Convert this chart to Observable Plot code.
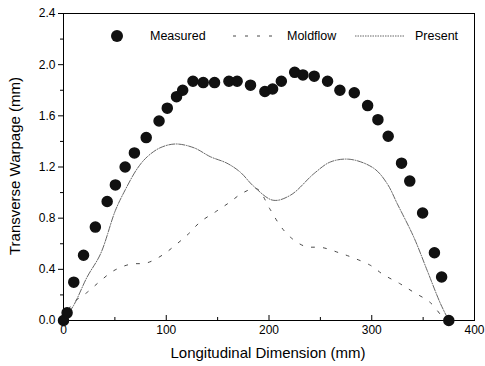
<!DOCTYPE html>
<html><head><meta charset="utf-8">
<script src="https://cdn.jsdelivr.net/npm/d3@7"></script>
<script src="https://cdn.jsdelivr.net/npm/@observablehq/plot@0.6"></script>
<style>body{margin:0;background:#fff;font-family:"Liberation Sans",Arial,sans-serif}</style>
</head><body><div id="chart"></div>
<script>
const measuredX = [0,3.5,10,19.5,31,42.5,50.5,60,69,80.5,93,101,110,116,126,136,147,161,169,182,196,203.5,212,225,233,244,257,269,283,296,306,316,329,337,349.5,361,368,375];
const measuredY = [0,0.06,0.30,0.51,0.73,0.93,1.06,1.20,1.31,1.43,1.56,1.66,1.75,1.80,1.87,1.86,1.86,1.87,1.87,1.84,1.79,1.81,1.87,1.94,1.92,1.91,1.87,1.80,1.78,1.68,1.57,1.44,1.23,1.09,0.84,0.53,0.34,0];
const moldX = [0,8.5,23,36,49,65,81,96,109,122,133,148,161,175,188,201,211,221,235,252,268,282,299,311,327,341,357,370];
const moldY = [0,0.13,0.22,0.31,0.39,0.44,0.45,0.51,0.59,0.68,0.77,0.85,0.92,1.0,1.03,0.87,0.74,0.65,0.58,0.57,0.53,0.49,0.43,0.36,0.29,0.22,0.14,0.01];
const presX = [0,10,23,36,50.5,60,72,81.5,94,109,127,143,159,172,185,204,221,244,260,279,302,315,325,341,354,367,375];
const presY = [0,0.12,0.34,0.52,0.86,1.02,1.19,1.28,1.35,1.38,1.35,1.28,1.23,1.16,1.05,0.94,0.98,1.15,1.24,1.26,1.19,1.07,0.91,0.65,0.39,0.13,0];
const xTicks = [0,100,200,300,400];
const xMinor = [50,150,250,350];
const yTicks = [0,0.4,0.8,1.2,1.6,2.0,2.4];
const yMinor = [0.2,0.6,1.0,1.4,1.8,2.2];
const legendLabels = ["Measured","Moldflow","Present"];

const measured = measuredX.map((x,i)=>({x,y:measuredY[i]}));
const mold = moldX.map((x,i)=>({x,y:moldY[i]}));
const pres = presX.map((x,i)=>({x,y:presY[i]}));

const chart = Plot.plot({
  width:485, height:366,
  marginLeft:63, marginRight:11, marginTop:13, marginBottom:46,
  style:{fontFamily:"Liberation Sans, Arial, sans-serif", fontSize:"11px", color:"#000", background:"#fff"},
  x:{domain:[0,400]},
  y:{domain:[0,2.4]},
  marks:[
    Plot.frame({stroke:"#000", strokeWidth:1}),
    Plot.axisX({ticks:xTicks, tickSize:-5, tickFormat:d=>d, label:null, fontSize:12, tickPadding:10}),
    Plot.axisX({ticks:xMinor, tickSize:-3, tickFormat:()=>"", label:null}),
    Plot.axisY({ticks:yTicks, tickSize:5, tickFormat:d3.format(".1f"), label:null, fontSize:12, tickPadding:3}),
    Plot.axisY({ticks:yMinor, tickSize:3, tickFormat:()=>"", label:null}),
    Plot.line(mold,{x:"x",y:"y",stroke:"#333",strokeWidth:0.9,strokeDasharray:"3,9",curve:"catmull-rom"}),
    Plot.line(pres,{x:"x",y:"y",stroke:"#555",strokeWidth:0.9,strokeDasharray:"6,1.5,1,1.5",curve:"catmull-rom"}),
    Plot.dot(measured,{x:"x",y:"y",r:5,fill:"#111",stroke:"#111"})
  ]
});
const svg = d3.select(chart);
// axis titles
svg.append("text").attr("x",268).attr("y",358).attr("text-anchor","middle")
  .attr("font-size",15).attr("fill","#000").text("Longitudinal Dimension (mm)");
svg.append("text").attr("transform","translate(20,166) rotate(-90)").attr("text-anchor","middle")
  .attr("font-size",15).attr("fill","#000").text("Transverse Warpage (mm)");
// legend
const lg = svg.append("g").attr("font-size",12.5).attr("fill","#000").attr("text-anchor","start");
lg.append("circle").attr("cx",117).attr("cy",36).attr("r",6).attr("fill","#111");
lg.append("text").attr("x",150).attr("y",40).text(legendLabels[0]);
lg.append("line").attr("x1",233).attr("x2",272).attr("y1",36).attr("y2",36).attr("stroke","#333").attr("stroke-width",0.9).attr("stroke-dasharray","3,9");
lg.append("text").attr("x",287).attr("y",40).text(legendLabels[1]);
lg.append("line").attr("x1",355).attr("x2",404).attr("y1",36).attr("y2",36).attr("stroke","#555").attr("stroke-width",0.9).attr("stroke-dasharray","1.5,1");
lg.append("text").attr("x",415).attr("y",40).text(legendLabels[2]);
document.getElementById("chart").append(chart);
</script></body></html>
